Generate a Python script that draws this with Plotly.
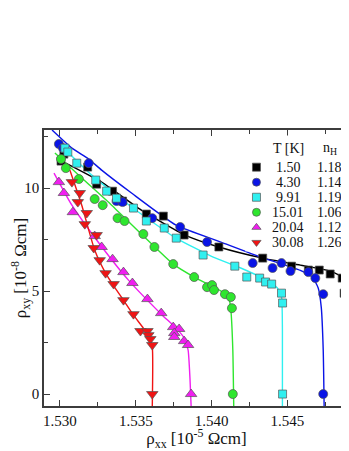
import plotly.graph_objects as go

# --- измерения: rho_xx [1e-5 Ohm cm], rho_xy [1e-8 Ohm cm] ---------------- #
t_labels = ["1.50", "4.30", "9.91", "15.01", "20.04", "30.08"]
nh_labels = ["1.18", "1.14", "1.19", "1.06", "1.12", "1.26"]

x_150 = [1.53026, 1.53007, 1.53183, 1.53242, 1.53347, 1.53413, 1.53570, 1.53682, 1.53819,
         1.54048, 1.54337, 1.54527, 1.54638, 1.54710, 1.54782, 1.54861, 1.54874, 1.54887]
y_150 = [11.65, 11.31, 11.02, 10.19, 9.85, 9.37, 8.74, 8.64, 7.72,
         7.14, 6.60, 6.21, 6.02, 6.02, 5.83, 5.63, 4.90, 0.0]

x_430 = [1.52993, 1.53020, 1.53190, 1.53373, 1.53413, 1.53609, 1.53793, 1.53970,
         1.54271, 1.54402, 1.54461, 1.54520, 1.54638, 1.54684, 1.54736, 1.54736]
y_430 = [12.14, 11.94, 11.21, 9.37, 9.32, 8.54, 8.11, 7.38,
         6.36, 6.12, 6.36, 5.97, 5.92, 5.63, 4.85, 0.0]

x_991 = [1.53033, 1.53052, 1.53111, 1.53236, 1.53308, 1.53373, 1.53485, 1.53570, 1.53688, 1.53767,
         1.53944, 1.54153, 1.54232, 1.54317, 1.54356, 1.54396, 1.54461, 1.54468, 1.54468]
y_991 = [11.94, 11.75, 11.21, 10.39, 9.85, 9.51, 9.03, 8.40, 8.06, 7.57,
         6.75, 6.21, 5.68, 5.63, 5.44, 5.34, 4.90, 4.42, 0.0]

x_1501 = [1.53007, 1.53039, 1.53125, 1.53229, 1.53282, 1.53380, 1.53426, 1.53550, 1.53623,
          1.53747, 1.53885, 1.53970, 1.54003, 1.54016, 1.54088, 1.54127, 1.54134, 1.54140]
y_1501 = [11.41, 10.97, 10.44, 9.47, 9.17, 8.54, 8.40, 7.77, 7.14,
          6.31, 5.68, 5.19, 5.29, 5.05, 4.85, 4.71, 4.17, 0.0]

x_2004 = [1.52993, 1.53026, 1.53085, 1.53229, 1.53275, 1.53347, 1.53419, 1.53478, 1.53577,
          1.53668, 1.53747, 1.53786, 1.53754, 1.53754, 1.53819, 1.53845, 1.53865]
y_2004 = [10.29, 9.76, 8.83, 7.67, 7.14, 6.55, 5.92, 5.39, 4.61,
          3.93, 3.25, 3.16, 2.96, 2.77, 2.57, 2.38, 0.0]

x_3008 = [1.53079, 1.53131, 1.53118, 1.53177, 1.53164, 1.53242, 1.53223, 1.53262, 1.53301,
          1.53354, 1.53419, 1.53485, 1.53531, 1.53577, 1.53583, 1.53596, 1.53609, 1.53609]
y_3008 = [10.29, 9.76, 9.32, 8.79, 8.25, 7.72, 7.09, 6.50, 5.87,
          5.34, 4.56, 3.88, 3.06, 3.06, 2.86, 2.67, 2.38, 0.0]

# --- подгоночные кривые --------------------------------------------------- #
fx_150 = [1.52987, 1.53275, 1.53537, 1.53825, 1.54048, 1.54336, 1.54585, 1.54782, 1.54860, 1.54880, 1.54886, 1.54886]
fy_150 = [11.41, 10.29, 8.93, 7.72, 7.14, 6.60, 6.26, 5.97, 5.68, 5.05, 3.59, -0.58]
fx_430 = [1.52948, 1.53079, 1.53190, 1.53275, 1.53472, 1.53766, 1.54061, 1.54323, 1.54585, 1.54664, 1.54703, 1.54723, 1.54736, 1.54742]
fy_430 = [12.82, 11.94, 11.41, 10.87, 9.76, 8.20, 7.38, 6.65, 6.00, 5.68, 5.15, 4.22, 2.14, -0.58]
fx_991 = [1.53033, 1.53210, 1.53472, 1.53766, 1.53996, 1.54192, 1.54336, 1.54434, 1.54461, 1.54467, 1.54467]
fy_991 = [11.89, 10.63, 9.08, 7.57, 6.70, 6.12, 5.63, 5.15, 4.71, 3.11, -0.58]
fx_1501 = [1.52967, 1.53144, 1.53341, 1.53537, 1.53747, 1.53897, 1.54074, 1.54114, 1.54127, 1.54140, 1.54146]
fy_1501 = [11.70, 10.49, 9.17, 7.77, 6.31, 5.63, 4.95, 4.66, 4.08, 2.14, -0.58]
fx_2004 = [1.52961, 1.53079, 1.53242, 1.53452, 1.53668, 1.53766, 1.53819, 1.53845, 1.53858, 1.53865]
fy_2004 = [10.73, 9.17, 7.48, 5.53, 3.88, 3.20, 2.72, 2.14, 0.68, -0.58]
fx_3008 = [1.53066, 1.53144, 1.53229, 1.53301, 1.53360, 1.53419, 1.53485, 1.53550, 1.53590, 1.53609, 1.53609]
fy_3008 = [10.87, 9.17, 6.99, 5.87, 5.19, 4.56, 3.83, 3.20, 2.72, 2.28, -0.58]

SERIES = [
    (x_150, y_150, fx_150, fy_150, "#000000", "square", 8),
    (x_430, y_430, fx_430, fy_430, "#0a14e6", "circle", 9),
    (x_991, y_991, fx_991, fy_991, "#30f0f0", "square", 8),
    (x_1501, y_1501, fx_1501, fy_1501, "#2ee62e", "circle", 9),
    (x_2004, y_2004, fx_2004, fy_2004, "#f01ef0", "triangle-up", 10),
    (x_3008, y_3008, fx_3008, fy_3008, "#f01414", "triangle-down", 10),
]

SERIF = "Liberation Serif"
AXIS = "#3c3c3c"

fig = go.Figure()

for xs, ys, fx, fy, col, sym, size in SERIES:
    fig.add_trace(go.Scatter(x=fx, y=fy, mode="lines", line=dict(color=col, width=1.4),
                             line_shape="spline", line_smoothing=0.5,
                             hoverinfo="skip", showlegend=False))
for xs, ys, fx, fy, col, sym, size in SERIES:
    fig.add_trace(go.Scatter(x=xs, y=ys, mode="markers", showlegend=False,
                             marker=dict(color=col, symbol=sym, size=size,
                                         line=dict(color="#555555", width=0.7))))

# легенда в виде таблицы: T [K] и n_H
rows = list(range(len(t_labels)))
fig.add_trace(go.Scatter(
    x=[0] * len(rows), y=rows, mode="markers", xaxis="x2", yaxis="y2", showlegend=False,
    hoverinfo="skip",
    marker=dict(color=[s[4] for s in SERIES], symbol=[s[5] for s in SERIES], size=8,
                line=dict(color="#555555", width=0.7)),
))
for i, (t, nh) in enumerate(zip(t_labels, nh_labels)):
    fig.add_annotation(x=1, y=i, xref="x2", yref="y2", text=t, showarrow=False,
                       font=dict(family=SERIF, size=14, color="#111"))
    fig.add_annotation(x=2.3, y=i, xref="x2", yref="y2", text=nh, showarrow=False,
                       font=dict(family=SERIF, size=14, color="#111"))
fig.add_annotation(x=1, y=-1.25, xref="x2", yref="y2", text="T [K]", showarrow=False,
                   font=dict(family=SERIF, size=14, color="#111"))
fig.add_annotation(x=2.3, y=-1.25, xref="x2", yref="y2", text="n<sub>H</sub>", showarrow=False,
                   font=dict(family=SERIF, size=14, color="#111"))

# страница имеет отступ body 8px: фигура 341x443, сдвинута на 8px
fig.update_layout(
    width=341, height=443,
    margin=dict(l=34, r=0, t=122, b=45),
    paper_bgcolor="white", plot_bgcolor="white",
    font=dict(family=SERIF, color="#111"),
    showlegend=False,
    xaxis=dict(
        range=[1.52895, 1.54906], tickvals=[1.530, 1.535, 1.540, 1.545],
        ticktext=["1.530", "1.535", "1.540", "1.545"],
        ticks="inside", ticklen=6, tickwidth=1.2, tickcolor=AXIS,
        minor=dict(ticks="inside", ticklen=4, tickwidth=1.2, tickcolor=AXIS, dtick=0.0025, tick0=1.530),
        showline=True, linecolor=AXIS, linewidth=1.5, mirror="allticks",
        showgrid=False, zeroline=False,
        tickfont=dict(family=SERIF, size=15, color="#111"),
        title=dict(text="ρ<sub>xx</sub> [10<sup>-5</sup> Ωcm]", standoff=10,
                   font=dict(family=SERIF, size=17, color="#111")),
    ),
    yaxis=dict(
        range=[-0.58, 12.82], tickvals=[0, 5, 10],
        ticks="inside", ticklen=6, tickwidth=1.2, tickcolor=AXIS,
        minor=dict(ticks="inside", ticklen=4, tickwidth=1.2, tickcolor=AXIS, dtick=2.5, tick0=0),
        showline=True, linecolor=AXIS, linewidth=1.5,
        showgrid=False, zeroline=False,
        tickfont=dict(family=SERIF, size=15, color="#111"),
        title=dict(text="ρ<sub>xy</sub> [10<sup>-8</sup> Ωcm]", standoff=4,
                   font=dict(family=SERIF, size=17, color="#111")),
    ),
    xaxis2=dict(domain=[0.66, 1.0], range=[-0.35, 2.9], visible=False, fixedrange=True,
                anchor="y2"),
    yaxis2=dict(domain=[0.56, 0.98], range=[5.6, -2.1], visible=False, fixedrange=True,
                anchor="x2"),
)

fig.write_html("out.html")
